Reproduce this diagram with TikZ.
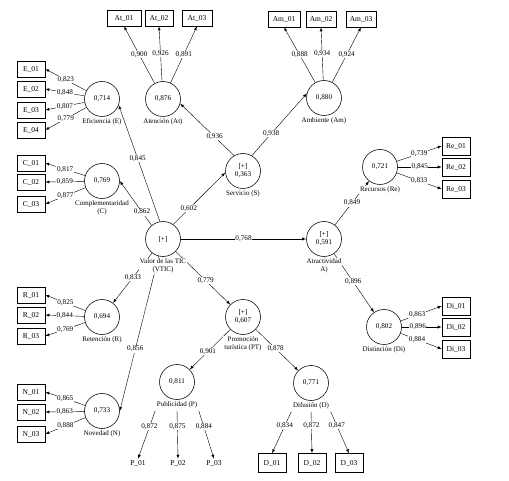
\documentclass[tikz,border=0pt]{standalone}
\usepackage{fontspec}
\setmainfont{Liberation Serif}
\usetikzlibrary{backgrounds}

\begin{document}
\begin{tikzpicture}[x=1pt,y=-1pt,>=latex,line width=0.55pt,
  lv/.style={circle,draw,minimum size=35pt,inner sep=0pt,align=center,font=\fontsize{7.2}{8}\selectfont},
  mv/.style={draw,minimum width=28pt,minimum height=16pt,inner sep=1pt,font=\fontsize{7.5}{9}\selectfont},
  mt/.style={inner sep=1pt,font=\fontsize{7.5}{9}\selectfont},
  wt/.style={fill=white,inner sep=0.6pt,font=\fontsize{7.2}{8}\selectfont},
  every label/.style={fill=white,inner sep=1pt,align=center,font=\fontsize{7}{8}\selectfont},
  label distance=1pt]
\useasboundingbox (0,0) rectangle (509,481);
%\draw[help lines] (0,0) grid (509,481);

% constructs
\node[lv,label={below:Eficiencia (E)}] (E) at (102,99) {0,714};
\node[lv,label={below:Complementaridad\\(C)}] (C) at (102,181) {0,769};
\node[lv,label={below:Retención (R)}] (R) at (102,317) {0,694};
\node[lv,label={below:Novedad (N)}] (N) at (102,411) {0,733};
\node[lv,label={[name=Vl]below:Valor de las TIC\\(VTIC)}] (VTIC) at (163,239) {[+]};
\node[lv,label={below:Atención (At)}] (At) at (163,99) {0,876};
\node[lv,label={below:Ambiente (Am)}] (Am) at (324,98) {0,880};
\node[lv,label={below:Servicio (S)}] (S) at (243,171) {[+]\\0,363};
\node[lv,label={below:Atractividad\\A)}] (A) at (324,239) {[+]\\0,591};
\node[lv,label={below:Recursos (Re)}] (Re) at (380,167) {0,721};
\node[lv,label={below:Distinción (Di)}] (Di) at (384,327) {0,802};
\node[lv,label={below:Promoción\\turística (PT)}] (PT) at (243,317) {[+]\\0,607};
\node[lv,label={[name=Pl]below:Publicidad (P)}] (P) at (177,382) {0,811};
\node[lv,label={[name=Dl]below:Difusión (D)}] (D) at (311,383) {0,771};

% indicators
\node[mv] (E1) at (31,69) {E\_01};
\node[mv] (E2) at (31,89) {E\_02};
\node[mv] (E3) at (31,110) {E\_03};
\node[mv] (E4) at (31,130) {E\_04};
\node[mv] (C1) at (31,163) {C\_01};
\node[mv] (C2) at (31,182) {C\_02};
\node[mv] (C3) at (31,204) {C\_03};
\node[mv] (R1) at (31,295) {R\_01};
\node[mv] (R2) at (31,315) {R\_02};
\node[mv] (R3) at (31,336) {R\_03};
\node[mv] (N1) at (31,392) {N\_01};
\node[mv] (N2) at (31,412) {N\_02};
\node[mv] (N3) at (31,434) {N\_03};
\node[mv,minimum width=34pt] (At1) at (124,18) {At\_01};
\node[mv,minimum width=28pt] (At2) at (159,18) {At\_02};
\node[mv,minimum width=30pt] (At3) at (197,18) {At\_03};
\node[mv,minimum width=32pt] (Am1) at (284,19) {Am\_01};
\node[mv,minimum width=30pt] (Am2) at (321,19) {Am\_02};
\node[mv,minimum width=30pt] (Am3) at (361,19) {Am\_03};
\node[mv,minimum height=18pt] (Re1) at (456,146) {Re\_01};
\node[mv,minimum height=18pt] (Re2) at (456,167) {Re\_02};
\node[mv,minimum height=18pt] (Re3) at (456,189) {Re\_03};
\node[mv,minimum height=18pt] (Di1) at (456,306) {Di\_01};
\node[mv,minimum height=18pt] (Di2) at (456,327) {Di\_02};
\node[mv,minimum height=18pt] (Di3) at (456,349) {Di\_03};
\node[mt] (P1) at (138,463) {P\_01};
\node[mt] (P2) at (178,463) {P\_02};
\node[mt] (P3) at (214,463) {P\_03};
\node[mv,minimum height=19pt] (D1) at (272,463) {D\_01};
\node[mv,minimum height=19pt] (D2) at (312,463) {D\_02};
\node[mv,minimum height=19pt] (D3) at (349,463) {D\_03};

\begin{pgfonlayer}{background}
% inner model
\draw[->] (VTIC.100) -- node[wt,pos=0.54]{0,845} (E.-20);
\draw[->] (VTIC.130) -- node[wt,pos=0.3]{0,862} (C.east);
\draw[->] (VTIC) -- node[wt,pos=0.49]{0,833} (R);
\draw[->] (VTIC) -- node[wt,pos=0.6]{0,856} (N.east);
\draw[->] (VTIC.55) -- node[wt,pos=0.3]{0,602} (S.185);
\draw[->] (VTIC) -- node[wt]{0,768} (A);
\draw[->] (VTIC) -- node[wt,pos=0.55]{0,779} (PT);
\draw[->] (S.120) -- node[wt,pos=0.36]{0,936} (At.345);
\draw[->] (S.60) -- node[wt,pos=0.35]{0,938} (Am.165);
\draw[->] (A) -- node[wt]{0,849} (Re);
\draw[->] (A) -- node[wt,pos=0.48]{0,896} (Di);
\draw[->] (PT) -- node[wt,pos=0.55]{0,901} (P);
\draw[->] (PT) -- node[wt,pos=0.47]{0,878} (D);

% outer model
\draw[->] (E) -- node[wt]{0,823} (E1.east);
\draw[->] (E) -- node[wt]{0,848} (E2.east);
\draw[->] (E) -- node[wt]{0,807} (E3.east);
\draw[->] (E) -- node[wt]{0,779} (E4.east);
\draw[->] (C) -- node[wt]{0,817} (C1.east);
\draw[->] (C) -- node[wt]{0,859} (C2.east);
\draw[->] (C) -- node[wt]{0,877} (C3.east);
\draw[->] (R) -- node[wt]{0,825} (R1.east);
\draw[->] (R) -- node[wt]{0,844} (R2.east);
\draw[->] (R) -- node[wt]{0,769} (R3.east);
\draw[->] (N) -- node[wt]{0,865} (N1.east);
\draw[->] (N) -- node[wt]{0,863} (N2.east);
\draw[->] (N) -- node[wt]{0,888} (N3.east);
\draw[->] (At) -- node[wt]{0,900} (At1.south);
\draw[->] (At) -- node[wt]{0,926} (At2.south);
\draw[->] (At) -- node[wt]{0,891} (At3.south);
\draw[->] (Am) -- node[wt]{0,888} (Am1.south);
\draw[->] (Am) -- node[wt]{0,934} (Am2.south);
\draw[->] (Am) -- node[wt]{0,924} (Am3.south);
\draw[->] (Re) -- node[wt]{0,739} (Re1.west);
\draw[->] (Re) -- node[wt]{0,845} (Re2.west);
\draw[->] (Re) -- node[wt]{0,833} (Re3.west);
\draw[->] (Di) -- node[wt,pos=0.4]{0,863} (Di1.west);
\draw[->] (Di) -- node[wt,pos=0.4]{0,896} (Di2.west);
\draw[->] (Di) -- node[wt,pos=0.4]{0,884} (Di3.west);
\draw[->,shorten <=1pt] (Pl.south west) -- node[wt,pos=0.35]{0,872} (P1.north);
\draw[->,shorten <=1pt] (Pl.south) -- node[wt,pos=0.35]{0,875} (P2.north);
\draw[->,shorten <=1pt] (Pl.south east) -- node[wt,pos=0.35]{0,884} (P3.north);
\draw[->,shorten <=1pt] (Dl.south west) -- node[wt,pos=0.35]{0,834} (D1.north);
\draw[->,shorten <=1pt] (Dl.south) -- node[wt,pos=0.35]{0,872} (D2.north);
\draw[->,shorten <=1pt] (Dl.south east) -- node[wt,pos=0.35]{0,847} (D3.north);
\end{pgfonlayer}
\end{tikzpicture}
\end{document}
